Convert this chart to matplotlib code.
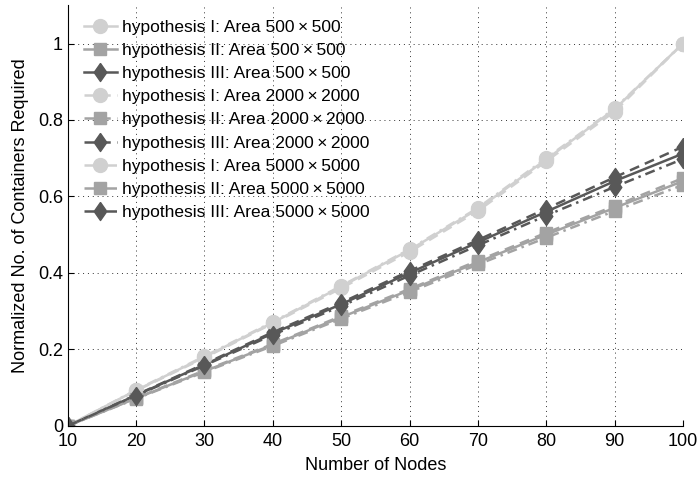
import matplotlib
matplotlib.use('Agg')
import matplotlib.pyplot as plt
from matplotlib.ticker import FormatStrFormatter

plt.rcParams['font.family'] = ['Liberation Sans', 'DejaVu Sans']

# Dados
nodes = [10, 20, 30, 40, 50, 60, 70, 80, 90, 100]

h1_500 = [0.0, 0.093, 0.180, 0.270, 0.364, 0.460, 0.567, 0.697, 0.828, 1.0]
h2_500 = [0.0, 0.072, 0.143, 0.212, 0.284, 0.355, 0.428, 0.500, 0.570, 0.640]
h3_500 = [0.0, 0.080, 0.160, 0.242, 0.318, 0.400, 0.480, 0.560, 0.640, 0.712]

h1_2000 = [0.0, 0.092, 0.178, 0.268, 0.360, 0.455, 0.562, 0.692, 0.822, 1.0]
h2_2000 = [0.0, 0.073, 0.145, 0.214, 0.287, 0.358, 0.432, 0.505, 0.575, 0.648]
h3_2000 = [0.0, 0.081, 0.162, 0.245, 0.322, 0.405, 0.486, 0.568, 0.650, 0.730]

h1_5000 = [0.0, 0.094, 0.182, 0.272, 0.366, 0.462, 0.570, 0.700, 0.830, 1.0]
h2_5000 = [0.0, 0.071, 0.141, 0.209, 0.280, 0.350, 0.422, 0.492, 0.562, 0.630]
h3_5000 = [0.0, 0.079, 0.158, 0.238, 0.313, 0.393, 0.472, 0.550, 0.625, 0.698]

c1 = '#d0d0d0'
c2 = '#a3a3a3'
c3 = '#585858'

dash = (0, (4, 2.5))
dashdot = (0, (4, 2, 1, 2))
diamond = [(0, 1), (0.7, 0), (0, -1), (-0.7, 0), (0, 1)]

fig = plt.figure(figsize=(6.99, 4.79), dpi=100)
ax = fig.add_axes([0.097, 0.111, 0.88, 0.878])

x = '\u2009\u00d7\u2009'
ax.plot(nodes, h1_500, '-', color=c1, marker='o', ms=10, lw=1.8, label='hypothesis I: Area 500' + x + '500')
ax.plot(nodes, h2_500, '-', color=c2, marker='s', ms=8.5, lw=1.8, label='hypothesis II: Area 500' + x + '500')
ax.plot(nodes, h3_500, '-', color=c3, marker=diamond, ms=13, lw=1.8, label='hypothesis III: Area 500' + x + '500')
ax.plot(nodes, h1_2000, linestyle=dash, color=c1, marker='o', ms=10, lw=1.8, label='hypothesis I: Area 2000' + x + '2000')
ax.plot(nodes, h2_2000, linestyle=dash, color=c2, marker='s', ms=8.5, lw=1.8, label='hypothesis II: Area 2000' + x + '2000')
ax.plot(nodes, h3_2000, linestyle=dash, color=c3, marker=diamond, ms=13, lw=1.8, label='hypothesis III: Area 2000' + x + '2000')
ax.plot(nodes, h1_5000, linestyle=dashdot, color=c1, marker='o', ms=10, lw=1.8, label='hypothesis I: Area 5000' + x + '5000')
ax.plot(nodes, h2_5000, linestyle=dashdot, color=c2, marker='s', ms=8.5, lw=1.8, label='hypothesis II: Area 5000' + x + '5000')
ax.plot(nodes, h3_5000, linestyle=dashdot, color=c3, marker=diamond, ms=13, lw=1.8, label='hypothesis III: Area 5000' + x + '5000')

ax.set_xlim(10, 100)
ax.set_ylim(0, 1.1)
ax.set_xticks(nodes)
ax.set_yticks([0, 0.2, 0.4, 0.6, 0.8, 1.0])
ax.yaxis.set_major_formatter(FormatStrFormatter('%g'))
ax.tick_params(direction='in', labelsize=13, length=4)
ax.tick_params(axis='x', pad=5)
ax.spines['top'].set_visible(False)
ax.spines['right'].set_visible(False)
ax.grid(True, linestyle=(0, (1, 4)), color='#333333', linewidth=0.7)
ax.set_axisbelow(True)

ax.set_xlabel('Number of Nodes', fontsize=13, labelpad=5)
ax.set_ylabel('Normalized No. of Containers Required', fontsize=13, labelpad=6)

ax.legend(loc='upper left', frameon=False, fontsize=12.5, handlelength=1.9,
          labelspacing=0.46, handletextpad=0.3, borderaxespad=0.0,
          bbox_to_anchor=(0.015, 0.982))

plt.savefig('out.png', dpi=100)
